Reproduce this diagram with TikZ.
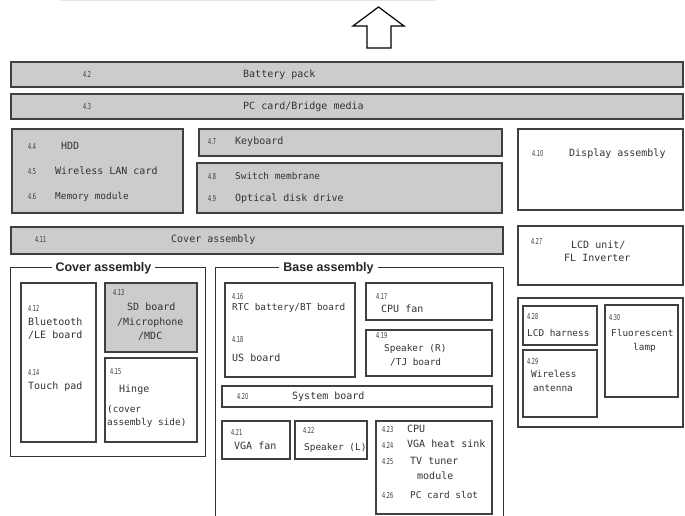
\documentclass[tikz,border=0pt]{standalone}
\usepackage{fontspec}
\usepackage{graphicx}
\setmainfont{DejaVu Sans Mono}
\newfontfamily\titlefont{Liberation Sans}
\newfontfamily\numfont{DejaVu Sans}
\newcommand{\mybox}[6]{\node[#6, anchor=north west, minimum width=#4pt-#2pt, minimum height=#5pt-#3pt] (#1) at (#2,#3) {};}
\newcommand{\nm}[1]{\scalebox{0.6}[1]{#1}}
\begin{document}
\begin{tikzpicture}[x=1pt,y=-1pt,
  gbox/.style={draw=black!75, line width=1.4pt, fill=black!20, inner sep=0pt, outer sep=0pt},
  wbox/.style={draw=black!75, line width=1.4pt, fill=white, inner sep=0pt, outer sep=0pt},
  grp/.style={draw=black!80, line width=0.9pt, inner sep=0pt, outer sep=0pt},
  lbl/.style={font=\fontsize{10}{11}\selectfont, text=black!80, inner sep=0pt, anchor=west, text height=7.5pt, text depth=2pt},
  slbl/.style={font=\fontsize{9.4}{11}\selectfont, text=black!80, inner sep=0pt, anchor=west, text height=7.2pt, text depth=2pt},
  num/.style={font=\numfont\fontsize{8.2}{9}\selectfont, text=black!80, inner sep=0pt, anchor=west},
  gtitle/.style={font=\titlefont\bfseries\fontsize{12.5}{13}\selectfont, text=black!85, fill=white, inner xsep=4pt, inner ysep=1pt},
  arr/.style={draw=black, line width=1.2pt, fill=white, line join=miter}
]
\useasboundingbox (0,0) rectangle (685,516);
\clip (0,0) rectangle (685,516);
% faint top line
\coordinate (fa) at (61,0.6);
\coordinate (fb) at (435,0.6);
\draw[black!10, line width=1pt] (fa) -- (fb);
% arrow
\draw[arr] (378.5,7) -- (404,26) -- (391,26) -- (391,48) -- (367,48) -- (367,26) -- (353,26) -- cycle;

% top bars
\mybox{battery}{11}{62}{683}{87}{gbox}
\node[num] (n42) at (83,74.5) {\nm{4.2}};
\node[lbl] (t42) at (243,74.5) {Battery pack};
\mybox{pccard}{11}{94}{683}{119}{gbox}
\node[num] (n43) at (83,106.5) {\nm{4.3}};
\node[lbl] (t43) at (243,106.5) {PC card/Bridge media};

% HDD box
\mybox{hdd}{12}{129}{183}{213}{gbox}
\node[num] (n44) at (28,147) {\nm{4.4}};
\node[lbl] (t44) at (61,147) {HDD};
\node[num] (n45) at (28,172) {\nm{4.5}};
\node[lbl] (t45) at (55,172) {Wireless LAN card};
\node[num] (n46) at (28,197) {\nm{4.6}};
\node[slbl] (t46) at (55,197) {Memory module};

% keyboard
\mybox{keyboard}{199}{129}{502}{156}{gbox}
\node[num] (n47) at (208,142) {\nm{4.7}};
\node[lbl] (t47) at (235,142) {Keyboard};
% switch
\mybox{switch}{197}{163}{502}{213}{gbox}
\node[num] (n48) at (208,177) {\nm{4.8}};
\node[slbl] (t48) at (235,177) {Switch membrane};
\node[num] (n49) at (208,199) {\nm{4.9}};
\node[lbl] (t49) at (235,199) {Optical disk drive};

% display assembly
\mybox{display}{518}{129}{683}{210}{wbox}
\node[num] (n410) at (532,154) {\nm{4.10}};
\node[lbl] (t410) at (569,154) {Display assembly};

% cover bar
\mybox{coverbar}{11}{227}{503}{254}{gbox}
\node[num] (n411) at (35,240) {\nm{4.11}};
\node[lbl] (t411) at (171,240) {Cover assembly};

% LCD unit
\mybox{lcd}{518}{226}{683}{285}{wbox}
\node[num] (n427) at (531,241) {\nm{4.27}};
\node[lbl] (t427a) at (571,246) {LCD unit/};
\node[lbl] (t427b) at (564,259) {FL Inverter};

% Cover assembly group
\mybox{coverg}{10}{267}{205}{456}{grp}
\node[gtitle] (covt) at (103.5,268) {Cover assembly};
\mybox{bt}{21}{283}{96}{442}{wbox}
\node[num] (n412) at (28,308) {\nm{4.12}};
\node[lbl] (t412a) at (28,323) {Bluetooth};
\node[lbl] (t412b) at (28,336) {/LE board};
\node[num] (n414) at (28,373) {\nm{4.14}};
\node[lbl] (t414) at (28,387) {Touch pad};
\mybox{sd}{105}{283}{197}{352}{gbox}
\node[num] (n413) at (113,293) {\nm{4.13}};
\node[lbl] (t413a) at (127,308) {SD board};
\node[lbl] (t413b) at (117,323) {/Microphone};
\node[lbl] (t413c) at (138,337) {/MDC};
\mybox{hinge}{105}{358}{197}{442}{wbox}
\node[num] (n415) at (110,372) {\nm{4.15}};
\node[lbl] (t415a) at (119,390) {Hinge};
\node[slbl] (t415b) at (107,410) {(cover};
\node[slbl] (t415c) at (107,423) {assembly side)};

% Base assembly group
\mybox{baseg}{215}{267}{503}{540}{grp}
\node[gtitle] (baset) at (328.5,268) {Base assembly};
\mybox{rtc}{225}{283}{355}{377}{wbox}
\node[num] (n416) at (232,297) {\nm{4.16}};
\node[slbl] (t416) at (232,308) {RTC battery/BT board};
\node[num] (n418) at (232,340) {\nm{4.18}};
\node[lbl] (t418) at (232,359) {US board};
\mybox{cpufan}{366}{283}{492}{320}{wbox}
\node[num] (n417) at (376,297) {\nm{4.17}};
\node[lbl] (t417) at (381,310) {CPU fan};
\mybox{spkr}{366}{330}{492}{376}{wbox}
\node[num] (n419) at (376,336) {\nm{4.19}};
\node[slbl] (t419a) at (384,349) {Speaker (R)};
\node[slbl] (t419b) at (390,363) {/TJ board};
\mybox{sysb}{222}{386}{492}{407}{wbox}
\node[num] (n420) at (237,397) {\nm{4.20}};
\node[lbl] (t420) at (292,397) {System board};
\mybox{vgafan}{222}{421}{290}{459}{wbox}
\node[num] (n421) at (231,432) {\nm{4.21}};
\node[lbl] (t421) at (234,447) {VGA fan};
\mybox{spkl}{295}{421}{367}{459}{wbox}
\node[num] (n422) at (303,430) {\nm{4.22}};
\node[slbl] (t422) at (304,448) {Speaker (L)};
\mybox{cpu}{376}{421}{492}{514}{wbox}
\node[num] (n423) at (382,430) {\nm{4.23}};
\node[lbl] (t423) at (407,430) {CPU};
\node[num] (n424) at (382,445) {\nm{4.24}};
\node[lbl] (t424) at (407,445) {VGA heat sink};
\node[num] (n425) at (382,462) {\nm{4.25}};
\node[lbl] (t425a) at (410,462) {TV tuner};
\node[lbl] (t425b) at (417,477) {module};
\node[num] (n426) at (382,496) {\nm{4.26}};
\node[slbl] (t426) at (410,496) {PC card slot};

% Display sub group
\mybox{dispg}{518}{298}{683}{427}{wbox}
\mybox{lcdh}{523}{306}{597}{345}{wbox}
\node[num] (n428) at (527,317) {\nm{4.28}};
\node[slbl] (t428) at (527,334) {LCD harness};
\mybox{wlant}{523}{350}{597}{417}{wbox}
\node[num] (n429) at (527,362) {\nm{4.29}};
\node[slbl] (t429a) at (531,375) {Wireless};
\node[slbl] (t429b) at (533,389) {antenna};
\mybox{flamp}{605}{305}{678}{397}{wbox}
\node[num] (n430) at (609,318) {\nm{4.30}};
\node[slbl] (t430a) at (611,334) {Fluorescent};
\node[slbl] (t430b) at (633,348) {lamp};
\end{tikzpicture}
\end{document}
